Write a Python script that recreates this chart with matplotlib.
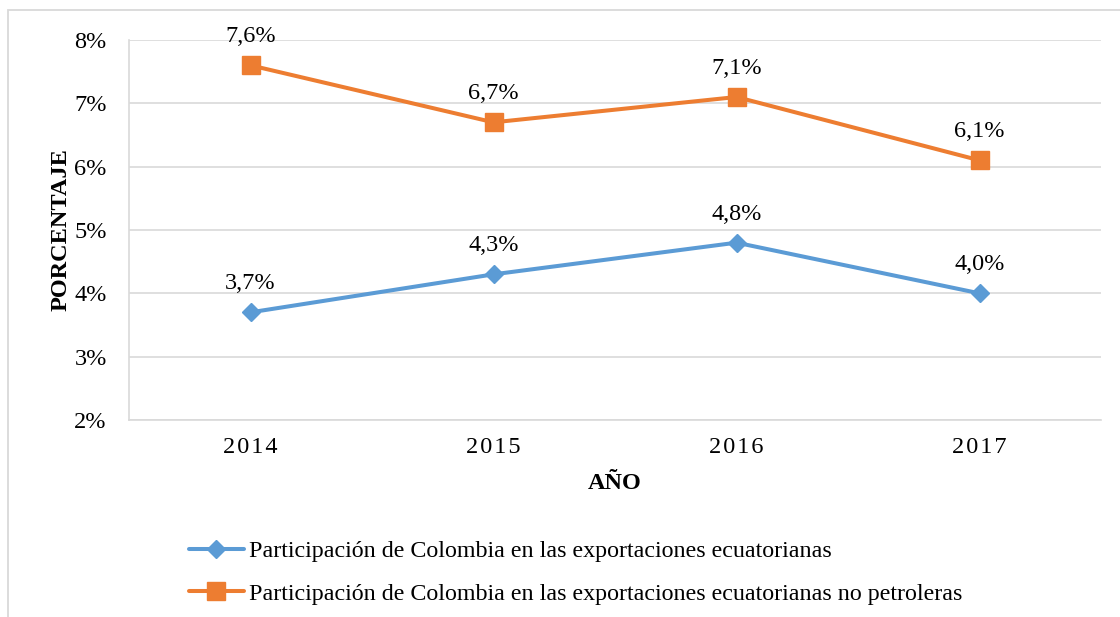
import matplotlib.pyplot as plt
from matplotlib.patches import Rectangle

plt.rcParams['font.family'] = ['Liberation Serif', 'DejaVu Serif']

years = ['2014', '2015', '2016', '2017']
total_share = [3.7, 4.3, 4.8, 4.0]
non_oil_share = [7.6, 6.7, 7.1, 6.1]
y_ticks = [2, 3, 4, 5, 6, 7, 8]

label_total = 'Participación de Colombia en las exportaciones ecuatorianas'
label_non_oil = 'Participación de Colombia en las exportaciones ecuatorianas no petroleras'

blue = '#5B9BD5'
orange = '#ED7D31'
grid_col = '#D9D9D9'
fs = 17.5

fig = plt.figure(figsize=(11.2, 6.17), dpi=100)
ax = fig.add_axes([129 / 1120, 1 - 420 / 617, 972 / 1120, 380 / 617])

# outer frame like the Excel chart area
fig.patches.append(Rectangle((8 / 1120, -0.05), 1.1, 1 - 10 / 617 + 0.05,
                             transform=fig.transFigure, fill=False,
                             edgecolor=grid_col, linewidth=1.3))

x = range(len(years))
ax.plot(x, total_share, color=blue, linewidth=2.9, marker='D', markersize=9,
        label=label_total, solid_capstyle='round')
ax.plot(x, non_oil_share, color=orange, linewidth=2.9, marker='s', markersize=12.5,
        label=label_non_oil, solid_capstyle='round')

for xi, v in zip(x, total_share):
    ax.annotate(f'{v:.1f}%'.replace('.', ','), (xi, v), xytext=(0, 13),
                textcoords='offset points', ha='center', va='bottom', fontsize=fs)
for xi, v in zip(x, non_oil_share):
    ax.annotate(f'{v:.1f}%'.replace('.', ','), (xi, v), xytext=(0, 13),
                textcoords='offset points', ha='center', va='bottom', fontsize=fs)

ax.set_xlim(-0.5, len(years) - 0.5)
ax.set_ylim(2, 8)
ax.set_yticks(y_ticks)
ax.set_yticklabels([f'{t}%' for t in y_ticks], fontsize=fs)
ax.set_xticks(list(x))
# the original spreads the year digits a little
ax.set_xticklabels(['\u200a'.join(y) for y in years], fontsize=fs)
ax.tick_params(axis='both', length=0)
ax.tick_params(axis='y', pad=16)
ax.tick_params(axis='x', pad=12)

ax.grid(True, axis='y', color=grid_col, linewidth=1.2)
ax.set_axisbelow(True)
for s in ['top', 'right']:
    ax.spines[s].set_visible(False)
ax.spines['left'].set_color(grid_col)
ax.spines['left'].set_linewidth(1.2)
ax.spines['bottom'].set_color(grid_col)
ax.spines['bottom'].set_linewidth(1.2)

ax.set_xlabel('AÑO', fontsize=fs, fontweight='bold', labelpad=11)
ax.set_ylabel('PORCENTAJE', fontsize=fs, fontweight='bold', labelpad=2)

fig.legend(loc='upper left', bbox_to_anchor=(179 / 1120, 1 - 531 / 617),
           frameon=False, fontsize=17.3, handlelength=2.3, handletextpad=0.2,
           labelspacing=0.85, borderaxespad=0)

fig.savefig('out.png', dpi=100)
